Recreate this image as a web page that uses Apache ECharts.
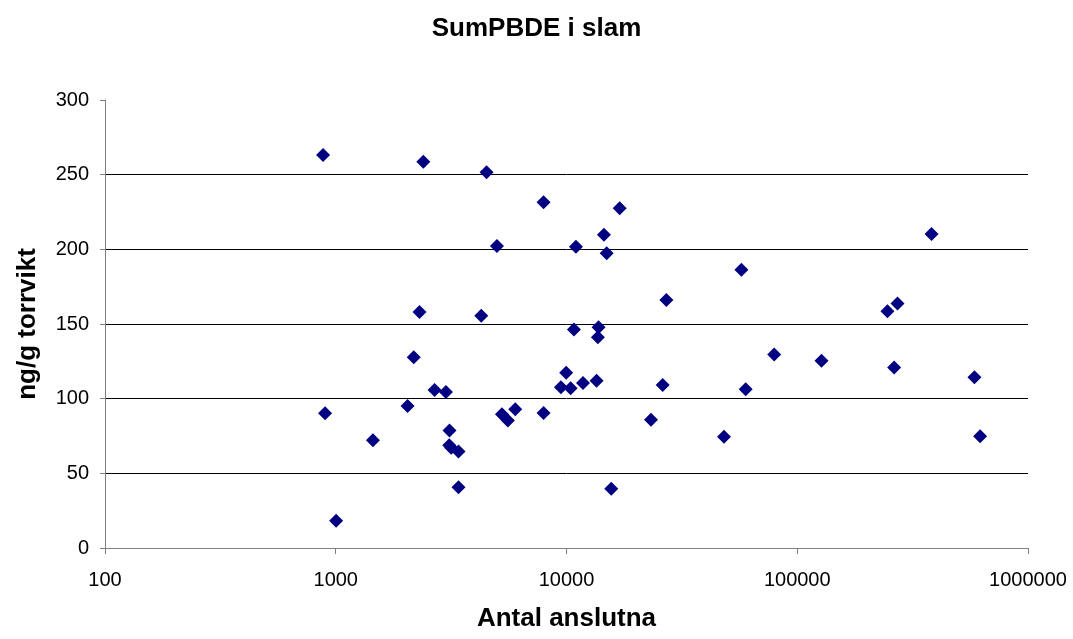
<!DOCTYPE html>
<html>
<head>
<meta charset="utf-8">
<script src="https://cdn.jsdelivr.net/npm/echarts@6/dist/echarts.min.js"></script>
<style>
  html, body { margin: 0; padding: 0; background: #fff; }
  #chart { width: 1073px; height: 639px; }
</style>
</head>
<body>
<div id="chart"></div>
<script>
// Connected population (x, log scale) and SumPBDE in sludge, ng/g dry weight (y)
const anslutna = [
  881, 899, 1004, 1449, 2047, 2178, 2307, 2396, 2680, 3002,
  3112, 3104, 3165, 3404, 3404, 4271, 4504, 4994, 5250, 5570,
  5995, 7956, 7956, 9460, 9970, 10420, 10770, 10985, 11790, 13500,
  13680, 13770, 14530, 14930, 15630, 16998, 23240, 26110, 27090, 48150,
  57280, 59780, 79430, 127400, 246000, 263000, 271900, 381900, 586000, 620300
];
const sumPBDE = [
  263.2, 90.2, 18.3, 72.1, 95.1, 127.7, 158.0, 258.7, 105.8, 104.5,
  78.6, 68.8, 67.2, 64.7, 40.6, 155.6, 251.6, 202.2, 89.5, 85.3,
  92.9, 231.5, 90.4, 107.6, 117.4, 106.9, 146.4, 201.8, 110.5, 112.0,
  141.1, 147.8, 209.8, 197.3, 39.7, 227.5, 85.8, 109.2, 166.1, 74.5,
  186.4, 106.3, 129.5, 125.4, 158.5, 120.8, 163.8, 210.3, 114.3, 74.8
];
const xTicks = [100, 1000, 10000, 100000, 1000000];
const yTicks = [0, 50, 100, 150, 200, 250, 300];

const points = anslutna.map((x, i) => [x, sumPBDE[i]]);
const font = '"Liberation Sans", Arial, sans-serif';

const chart = echarts.init(document.getElementById('chart'), null, { renderer: 'canvas' });
chart.setOption({
  animation: false,
  backgroundColor: '#ffffff',
  title: {
    text: 'SumPBDE i slam',
    left: 'center',
    top: 11,
    textStyle: { fontFamily: font, fontSize: 26, fontWeight: 'bold', color: '#000' }
  },
  grid: { left: 105, right: 45, top: 100, bottom: 91, containLabel: false },
  xAxis: {
    type: 'log',
    logBase: 10,
    min: xTicks[0],
    max: xTicks[xTicks.length - 1],
    name: 'Antal anslutna',
    nameLocation: 'middle',
    nameGap: 58,
    nameTextStyle: { fontFamily: font, fontSize: 26, fontWeight: 'bold', color: '#000' },
    axisLine: { show: true, lineStyle: { color: '#808080', width: 1 } },
    axisTick: { show: true, inside: false, length: 6, lineStyle: { color: '#808080' } },
    minorTick: { show: false },
    splitLine: { show: false },
    axisLabel: {
      margin: 22,
      fontFamily: font,
      fontSize: 20,
      color: '#000',
      formatter: v => String(Math.round(v))
    }
  },
  yAxis: {
    type: 'value',
    min: yTicks[0],
    max: yTicks[yTicks.length - 1],
    interval: yTicks[1] - yTicks[0],
    name: 'ng/g torrvikt',
    nameLocation: 'middle',
    nameGap: 64,
    nameTextStyle: { fontFamily: font, fontSize: 26, fontWeight: 'bold', color: '#000' },
    axisLine: { show: true, lineStyle: { color: '#808080', width: 1 } },
    axisTick: { show: true, inside: false, length: 5, lineStyle: { color: '#808080' } },
    splitLine: {
      show: true,
      showMinLine: false,
      showMaxLine: false,
      lineStyle: { color: '#000', width: 1 }
    },
    axisLabel: {
      margin: 16,
      fontFamily: font,
      fontSize: 20,
      color: '#000',
      padding: [3, 0, 0, 0],
      formatter: v => String(v)
    }
  },
  series: [{
    type: 'scatter',
    data: points,
    symbol: 'diamond',
    symbolSize: 14,
    itemStyle: { color: '#000080', opacity: 1 },
    emphasis: { disabled: true }
  }]
});
</script>
</body>
</html>
